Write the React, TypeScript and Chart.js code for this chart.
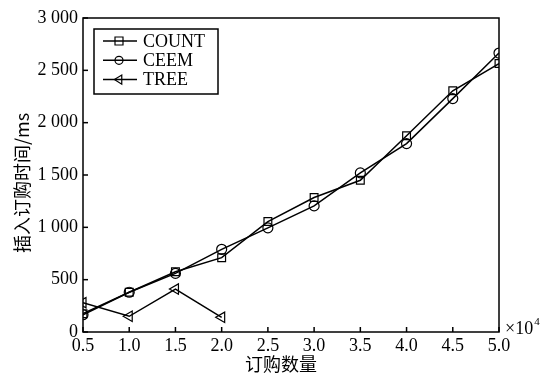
import React, { useEffect, useRef } from "react";
import { Chart, registerables } from "chart.js";

Chart.register(...registerables);

const xValues = [0.5, 1.0, 1.5, 2.0, 2.5, 3.0, 3.5, 4.0, 4.5, 5.0];
const countValues = [175, 380, 575, 710, 1055, 1285, 1450, 1875, 2305, 2565];
const ceemValues = [165, 380, 560, 790, 995, 1205, 1520, 1800, 2230, 2665];
const treeX = [0.5, 1.0, 1.5, 2.0];
const treeValues = [280, 150, 410, 140];
const seriesNames = ["COUNT", "CEEM", "TREE"];
const xTitle = "订购数量";
const yTitle = "插入订购时间/ms";
const xUnit = "×10";
const xUnitExp = "4";

const SERIF = "'Liberation Serif', 'Times New Roman', serif";
const CJK = "'Noto Sans CJK SC', sans-serif";

function drawMarker(ctx: CanvasRenderingContext2D, style: string, x: number, y: number, r: number) {
  ctx.beginPath();
  if (style === "rect") {
    ctx.rect(x - r, y - r, 2 * r, 2 * r);
  } else if (style === "circle") {
    ctx.arc(x, y, r, 0, Math.PI * 2);
  } else {
    const h = r * 1.15;
    ctx.moveTo(x - h, y);
    ctx.lineTo(x + h * 0.6, y - h);
    ctx.lineTo(x + h * 0.6, y + h);
    ctx.closePath();
  }
  ctx.stroke();
}

const framePlugin = {
  id: "frame",
  afterDraw(chart: any) {
    const { ctx, chartArea: a, scales } = chart;
    ctx.save();
    ctx.strokeStyle = "#000";
    ctx.lineWidth = 1.5;
    ctx.strokeRect(a.left, a.top, a.right - a.left, a.bottom - a.top);
    const xs = scales.x;
    const ys = scales.y;
    xs.ticks.forEach((t: any) => {
      const px = xs.getPixelForValue(t.value);
      ctx.beginPath();
      ctx.moveTo(px, a.bottom);
      ctx.lineTo(px, a.bottom - 5);
      ctx.stroke();
    });
    ys.ticks.forEach((t: any) => {
      const py = ys.getPixelForValue(t.value);
      ctx.beginPath();
      ctx.moveTo(a.left, py);
      ctx.lineTo(a.left + 5, py);
      ctx.stroke();
    });

    // legend
    const lx = 94, ly = 29, lw = 124, lh = 65;
    ctx.fillStyle = "#fff";
    ctx.fillRect(lx, ly, lw, lh);
    ctx.lineWidth = 1.5;
    ctx.strokeRect(lx, ly, lw, lh);
    const styles = ["rect", "circle", "triangle"];
    ctx.font = `18px ${SERIF}`;
    ctx.textBaseline = "middle";
    ctx.textAlign = "left";
    seriesNames.forEach((name, i) => {
      const yy = ly + 12 + i * 19.3;
      ctx.lineWidth = 1.5;
      ctx.beginPath();
      ctx.moveTo(lx + 9, yy);
      ctx.lineTo(lx + 43, yy);
      ctx.stroke();
      ctx.lineWidth = 1.2;
      drawMarker(ctx, styles[i], lx + 25, yy, 4);
      ctx.fillStyle = "#000";
      ctx.fillText(name, lx + 49, yy + 1);
    });

    // titles
    ctx.fillStyle = "#000";
    ctx.font = `18px ${CJK}`;
    ctx.textAlign = "center";
    ctx.textBaseline = "middle";
    ctx.fillText(xTitle, 281, 364);
    ctx.save();
    ctx.translate(22, 183);
    ctx.rotate(-Math.PI / 2);
    ctx.fillText(yTitle, 0, 0);
    ctx.restore();

    // x unit
    ctx.textAlign = "left";
    ctx.font = `18px ${SERIF}`;
    ctx.fillText(xUnit, 505, 329);
    const w = ctx.measureText(xUnit).width;
    ctx.font = `11px ${SERIF}`;
    ctx.fillText(xUnitExp, 505 + w + 1, 322);
    ctx.restore();
  },
};

export default function App() {
  const ref = useRef<HTMLCanvasElement | null>(null);
  useEffect(() => {
    document.body.style.margin = "0";
    const canvas = ref.current!;
    const mk = (xs: number[], ys: number[]) => xs.map((x, i) => ({ x, y: ys[i] }));
    const common = {
      borderColor: "#000",
      borderWidth: 1.5,
      pointBorderColor: "#000",
      pointBackgroundColor: "rgba(0,0,0,0)",
      pointBorderWidth: 1.2,
      pointRadius: 5,
      tension: 0,
      fill: false,
    };
    const chart = new Chart(canvas, {
      type: "line",
      data: {
        datasets: [
          { ...common, label: seriesNames[0], data: mk(xValues, countValues), pointStyle: "rect", pointRadius: 5.5 },
          { ...common, label: seriesNames[1], data: mk(xValues, ceemValues), pointStyle: "circle" },
          { ...common, label: seriesNames[2], data: mk(treeX, treeValues), pointStyle: "triangle", pointRotation: 270, pointRadius: 6 },
        ],
      },
      options: {
        animation: false,
        responsive: false,
        devicePixelRatio: 1,
        layout: { padding: { top: 18, right: 54, left: 0, bottom: 0 } },
        plugins: { legend: { display: false }, tooltip: { enabled: false } },
        scales: {
          x: {
            type: "linear",
            min: 0.5,
            max: 5,
            afterFit(s: any) { s.height = 47; },
            afterBuildTicks(s: any) { s.ticks = xValues.map((v) => ({ value: v })); },
            grid: { display: false, drawTicks: false },
            border: { display: false },
            ticks: {
              color: "#000",
              padding: 3,
              font: { family: SERIF, size: 18 },
              callback: (v: any) => Number(v).toFixed(1),
              maxRotation: 0,
              autoSkip: false,
            },
          },
          y: {
            min: 0,
            max: 3000,
            afterFit(s: any) { s.width = 83; },
            grid: { display: false, drawTicks: false },
            border: { display: false },
            ticks: {
              stepSize: 500,
              color: "#000",
              padding: 5,
              font: { family: SERIF, size: 18 },
              callback: (v: any) => {
                const n = Number(v);
                if (n >= 1000) {
                  const th = Math.floor(n / 1000);
                  const rest = String(n % 1000).padStart(3, "0");
                  return `${th} ${rest}`;
                }
                return String(n);
              },
            },
          },
        },
      },
      plugins: [framePlugin],
    } as any);
    return () => chart.destroy();
  }, []);
  return <canvas ref={ref} width={553} height={379} style={{ display: "block", width: 553, height: 379 }} />;
}
